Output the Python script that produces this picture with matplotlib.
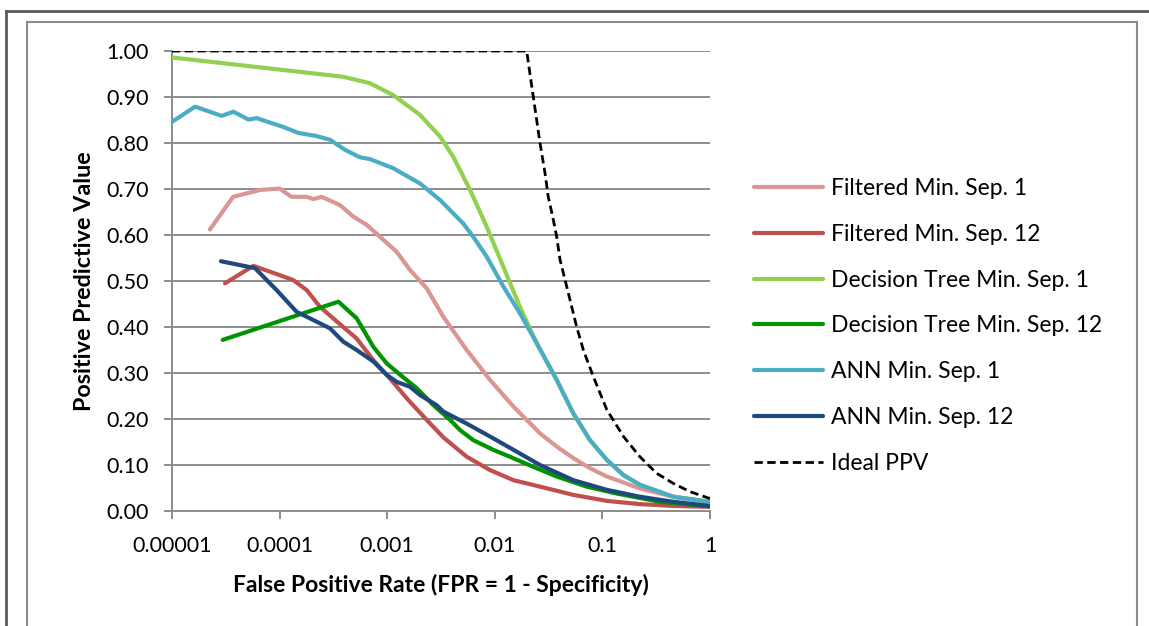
import matplotlib
matplotlib.use("Agg")
import matplotlib.pyplot as plt
from matplotlib.lines import Line2D

plt.rcParams['font.family'] = ['Lato', 'DejaVu Sans']

# ---- data ----
fil1_x = [2.25e-5, 3.7e-5, 6.6e-5, 1.0e-4, 1.29e-4, 1.79e-4, 2.06e-4, 2.46e-4, 3.64e-4,
          4.84e-4, 6.46e-4, 8.57e-4, 1.22e-3, 1.63e-3, 2.33e-3, 3.33e-3, 5.48e-3,
          9.02e-3, 1.49e-2, 2.63e-2, 3.76e-2, 5.37e-2, 7.67e-2, 0.110, 0.223,
          0.456, 1.0]
fil1_y = [0.612, 0.683, 0.698, 0.701, 0.683, 0.683, 0.678, 0.683, 0.665,
          0.640, 0.622, 0.596, 0.564, 0.524, 0.484, 0.422, 0.350,
          0.285, 0.227, 0.169, 0.140, 0.115, 0.093, 0.075, 0.049,
          0.031, 0.019]

fil12_x = [3.11e-5, 5.70e-5, 9.4e-5, 1.34e-4, 1.79e-4, 2.37e-4, 3.40e-4, 5.20e-4,
           7.43e-4, 1.06e-3, 1.52e-3, 2.33e-3, 3.33e-3, 5.48e-3, 9.02e-3,
           1.49e-2, 2.63e-2, 5.37e-2, 0.110, 0.223, 0.456, 1.0]
fil12_y = [0.495, 0.533, 0.515, 0.502, 0.480, 0.444, 0.412, 0.375,
           0.328, 0.288, 0.245, 0.198, 0.160, 0.118, 0.089,
           0.067, 0.053, 0.035, 0.022, 0.015, 0.011, 0.009]

dt1_x = [1.0e-5, 3.9e-4, 6.9e-4, 1.14e-3, 2.02e-3, 3.10e-3, 4.11e-3, 5.89e-3,
         8.41e-3, 1.20e-2, 1.71e-2, 2.45e-2, 3.76e-2, 5.37e-2, 7.67e-2, 0.110,
         0.157, 0.223, 0.456, 1.0]
dt1_y = [0.986, 0.944, 0.930, 0.904, 0.861, 0.814, 0.770, 0.698,
         0.618, 0.531, 0.444, 0.365, 0.285, 0.212, 0.154, 0.111,
         0.078, 0.057, 0.031, 0.020]

dt12_x = [2.96e-5, 3.52e-4, 5.20e-4, 7.43e-4, 9.89e-4, 1.32e-3, 1.88e-3, 2.69e-3,
          3.84e-3, 4.75e-3, 6.31e-3, 9.68e-3, 1.38e-2, 2.28e-2, 3.76e-2,
          7.14e-2, 0.136, 0.343, 1.0]
dt12_y = [0.372, 0.455, 0.419, 0.357, 0.321, 0.296, 0.267, 0.230,
          0.198, 0.176, 0.154, 0.133, 0.118, 0.096, 0.075,
          0.053, 0.038, 0.020, 0.010]

ann1_x = [1.0e-5, 1.64e-5, 2.90e-5, 3.72e-5, 5.13e-5, 6.12e-5, 1.08e-4, 1.49e-4,
          2.21e-4, 2.94e-4, 4.07e-4, 5.58e-4, 6.92e-4, 1.14e-3, 2.02e-3, 3.10e-3,
          5.09e-3, 6.31e-3, 8.41e-3, 1.20e-2, 1.71e-2, 2.45e-2, 3.76e-2, 5.37e-2,
          7.67e-2, 0.110, 0.157, 0.223, 0.456, 1.0]
ann1_y = [0.846, 0.879, 0.859, 0.868, 0.851, 0.854, 0.835, 0.822,
          0.815, 0.807, 0.785, 0.769, 0.765, 0.745, 0.712, 0.676,
          0.625, 0.596, 0.553, 0.488, 0.430, 0.365, 0.285, 0.212,
          0.154, 0.111, 0.078, 0.057, 0.031, 0.020]

ann12_x = [2.85e-5, 5.90e-5, 9.4e-5, 1.44e-4, 2.37e-4, 2.94e-4, 3.91e-4, 5.20e-4,
           7.43e-4, 9.89e-4, 1.22e-3, 1.63e-3, 2.02e-3, 2.88e-3, 3.33e-3,
           5.48e-3, 9.02e-3, 1.49e-2, 2.63e-2, 5.37e-2, 0.110, 0.223, 0.456, 1.0]
ann12_y = [0.543, 0.528, 0.480, 0.433, 0.408, 0.397, 0.368, 0.350,
           0.325, 0.296, 0.281, 0.270, 0.252, 0.230, 0.216,
           0.190, 0.162, 0.133, 0.100, 0.067, 0.046, 0.031, 0.020, 0.011]

ideal_x = [1.0e-5, 1.98e-2, 2.12e-2, 2.28e-2, 2.45e-2, 2.63e-2, 2.93e-2, 3.14e-2,
           3.45e-2, 3.76e-2, 4.04e-2, 5.0e-2, 5.77e-2, 6.65e-2, 8.24e-2, 0.110,
           0.157, 0.223, 0.319, 0.456, 0.652, 1.0]
ideal_y = [1.0, 1.0, 0.951, 0.900, 0.850, 0.800, 0.734, 0.683,
           0.640, 0.596, 0.546, 0.459, 0.400, 0.350, 0.292, 0.220,
           0.162, 0.118, 0.082, 0.060, 0.042, 0.027]

series = [
    ("Filtered Min. Sep. 1", fil1_x, fil1_y, "#D99694"),
    ("Filtered Min. Sep. 12", fil12_x, fil12_y, "#C0504D"),
    ("Decision Tree Min. Sep. 1", dt1_x, dt1_y, "#92D050"),
    ("Decision Tree Min. Sep. 12", dt12_x, dt12_y, "#009400"),
    ("ANN Min. Sep. 1", ann1_x, ann1_y, "#4BACC6"),
    ("ANN Min. Sep. 12", ann12_x, ann12_y, "#1F497D"),
]

x_ticks = [1e-5, 1e-4, 1e-3, 1e-2, 1e-1, 1]
x_tick_labels = ["0.00001", "0.0001", "0.001", "0.01", "0.1", "1"]
y_ticks = [0.0, 0.1, 0.2, 0.3, 0.4, 0.5, 0.6, 0.7, 0.8, 0.9, 1.0]

# ---- figure ----
W, H = 1149, 626
fig = plt.figure(figsize=(W / 100, H / 100), dpi=100)
ax = fig.add_axes([172 / W, 1 - 511 / H, (710 - 172) / W, (511 - 51) / H])

grid_c = "#8C8C8C"
for y in y_ticks[1:]:
    ax.axhline(y, color=grid_c, lw=1.4, zorder=1)

handles = []
for name, xs, ys, c in series:
    h, = ax.plot(xs, ys, color=c, lw=3.0, solid_capstyle='round',
                 solid_joinstyle='round', label=name, zorder=3)
    handles.append(h)
h, = ax.plot(ideal_x, ideal_y, color="black", lw=2.0, ls=(0, (3, 1.6)),
             label="Ideal PPV", zorder=4)
handles.append(h)

ax.set_xscale("log")
ax.set_xlim(1e-5, 1)
ax.set_ylim(0, 1.0)
ax.set_xticks(x_ticks)
ax.set_xticklabels(x_tick_labels)
ax.minorticks_off()
ax.set_yticks(y_ticks)
ax.set_yticklabels([f"{v:.2f}" for v in y_ticks])
for s in ["top", "right"]:
    ax.spines[s].set_visible(False)
for s in ["left", "bottom"]:
    ax.spines[s].set_color(grid_c)
    ax.spines[s].set_linewidth(1.4)
ax.tick_params(axis="both", direction="out", length=6, width=1.4, color=grid_c,
               labelsize=15.5, labelcolor="black")
ax.tick_params(axis="x", pad=12)
ax.tick_params(axis="y", pad=11)

ax.set_xlabel("False Positive Rate (FPR = 1 - Specificity)", fontsize=16.5,
              fontweight="bold", labelpad=13)
ax.set_ylabel("Positive Predictive Value", fontsize=16.8,
              fontweight="bold", labelpad=8)

fig.legend(handles=handles, loc="center left",
           bbox_to_anchor=(754 / W, 1 - 326 / H), frameon=False,
           fontsize=16.5, handlelength=3.0, handletextpad=0.35,
           labelspacing=1.09, borderaxespad=0, borderpad=0)

# frame lines (outer dark, inner gray)
fig.add_artist(Line2D([6 / W, 6 / W], [0, 1 - 11 / H], color="#595959", lw=2,
                      transform=fig.transFigure))
fig.add_artist(Line2D([6 / W, 1], [1 - 11 / H, 1 - 11 / H], color="#595959", lw=2,
                      transform=fig.transFigure))
fig.add_artist(Line2D([27 / W, 27 / W], [0, 1 - 22 / H], color="#8C8C8C", lw=1.5,
                      transform=fig.transFigure))
fig.add_artist(Line2D([27 / W, 1137 / W], [1 - 22 / H, 1 - 22 / H], color="#8C8C8C",
                      lw=1.5, transform=fig.transFigure))
fig.add_artist(Line2D([1137 / W, 1137 / W], [0, 1 - 22 / H], color="#8C8C8C",
                      lw=1.5, transform=fig.transFigure))

fig.savefig("out.png", dpi=100)
